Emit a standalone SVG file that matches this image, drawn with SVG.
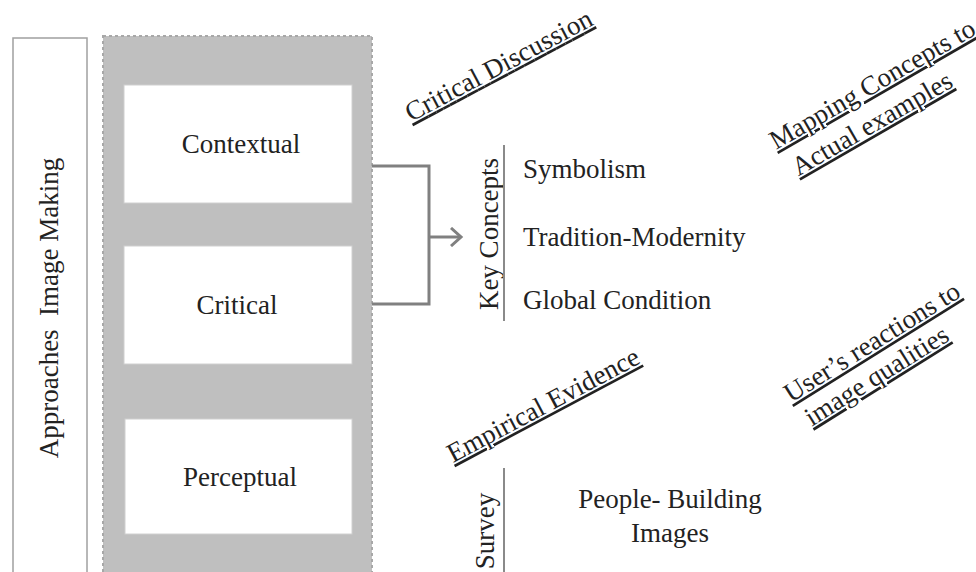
<svg xmlns="http://www.w3.org/2000/svg" width="976" height="572" viewBox="0 0 976 572">
<style>
text{font-size:27px;fill:#222}
.box{fill:#fff;stroke:#d0d0d0;stroke-width:1}
.ul{text-decoration:underline}
.conn{fill:none;stroke:#808080;stroke-width:3}
.sep{stroke:#8a8a8a;stroke-width:2}
</style>
<defs>
<marker id="arr" markerWidth="14" markerHeight="20" refX="11" refY="10" orient="auto" markerUnits="userSpaceOnUse">
<path d="M1,1 L11,10 L1,19" fill="none" stroke="#808080" stroke-width="3"/>
</marker>
</defs>
<rect width="976" height="572" fill="#fff"/>
<g id="approaches">
<rect x="13" y="38" width="74" height="540" fill="#fff" stroke="#a0a0a0" stroke-width="1.5"/>
<text transform="translate(58,308) rotate(-90)" text-anchor="middle" font-size="28" font-family="Tinos">Approaches&#160; Image Making</text>
</g>
<g id="panel">
<rect x="103" y="36" width="269" height="545" fill="#bfbfbf" stroke="#a8a8a8" stroke-width="2" stroke-dasharray="3 3"/>
</g>
<g id="contextual">
<rect class="box" x="124" y="85" width="228" height="118"/>
<text x="241" y="153" text-anchor="middle" font-family="Tinos">Contextual</text>
</g>
<g id="critical">
<rect class="box" x="124" y="246" width="228" height="118"/>
<text x="237" y="314" text-anchor="middle" font-family="Times">Critical</text>
</g>
<g id="perceptual">
<rect class="box" x="125" y="419" width="227" height="115"/>
<text x="240" y="486" text-anchor="middle" font-family="Tinos">Perceptual</text>
</g>
<g id="connectors">
<path class="conn" d="M372,166 H429 V304 H372"/>
<path class="conn" d="M429,237 H461" marker-end="url(#arr)"/>
</g>
<g id="key-concepts">
<text transform="translate(498,234) rotate(-90)" text-anchor="middle" font-size="28" font-family="Tinos">Key Concepts</text>
<line class="sep" x1="504" y1="145" x2="504" y2="321"/>
<text x="523" y="178" font-family="Liberation Serif">Symbolism</text>
<text x="523" y="246" font-family="Tinos">Tradition-Modernity</text>
<text x="523" y="309" font-family="Times">Global Condition</text>
</g>
<g id="critical-discussion">
<text class="ul" transform="translate(411,122) rotate(-28)" textLength="208" font-family="Tinos">Critical Discussion</text>
</g>
<g id="mapping">
<g transform="translate(776,150) rotate(-30)">
<text class="ul" x="0" y="0" font-family="Tinos">Mapping Concepts to</text>
<text class="ul" x="6" y="34" font-family="Times">Actual examples</text>
</g>
</g>
<g id="empirical">
<text class="ul" transform="translate(453,463) rotate(-28)" font-family="Tinos">Empirical Evidence</text>
</g>
<g id="users">
<g transform="translate(791,403) rotate(-32)">
<text class="ul" x="0" y="0" font-family="Times">User’s reactions to</text>
<text class="ul" x="5" y="31" font-family="Tinos">image qualities</text>
</g>
</g>
<g id="survey">
<text transform="translate(494,531) rotate(-90)" text-anchor="middle" font-family="Times">Survey</text>
<line class="sep" x1="504" y1="468" x2="504" y2="572"/>
<text x="670" y="508" text-anchor="middle" font-family="Tinos">People- Building</text>
<text x="670" y="542" text-anchor="middle" font-family="Times">Images</text>
</g>
</svg>
